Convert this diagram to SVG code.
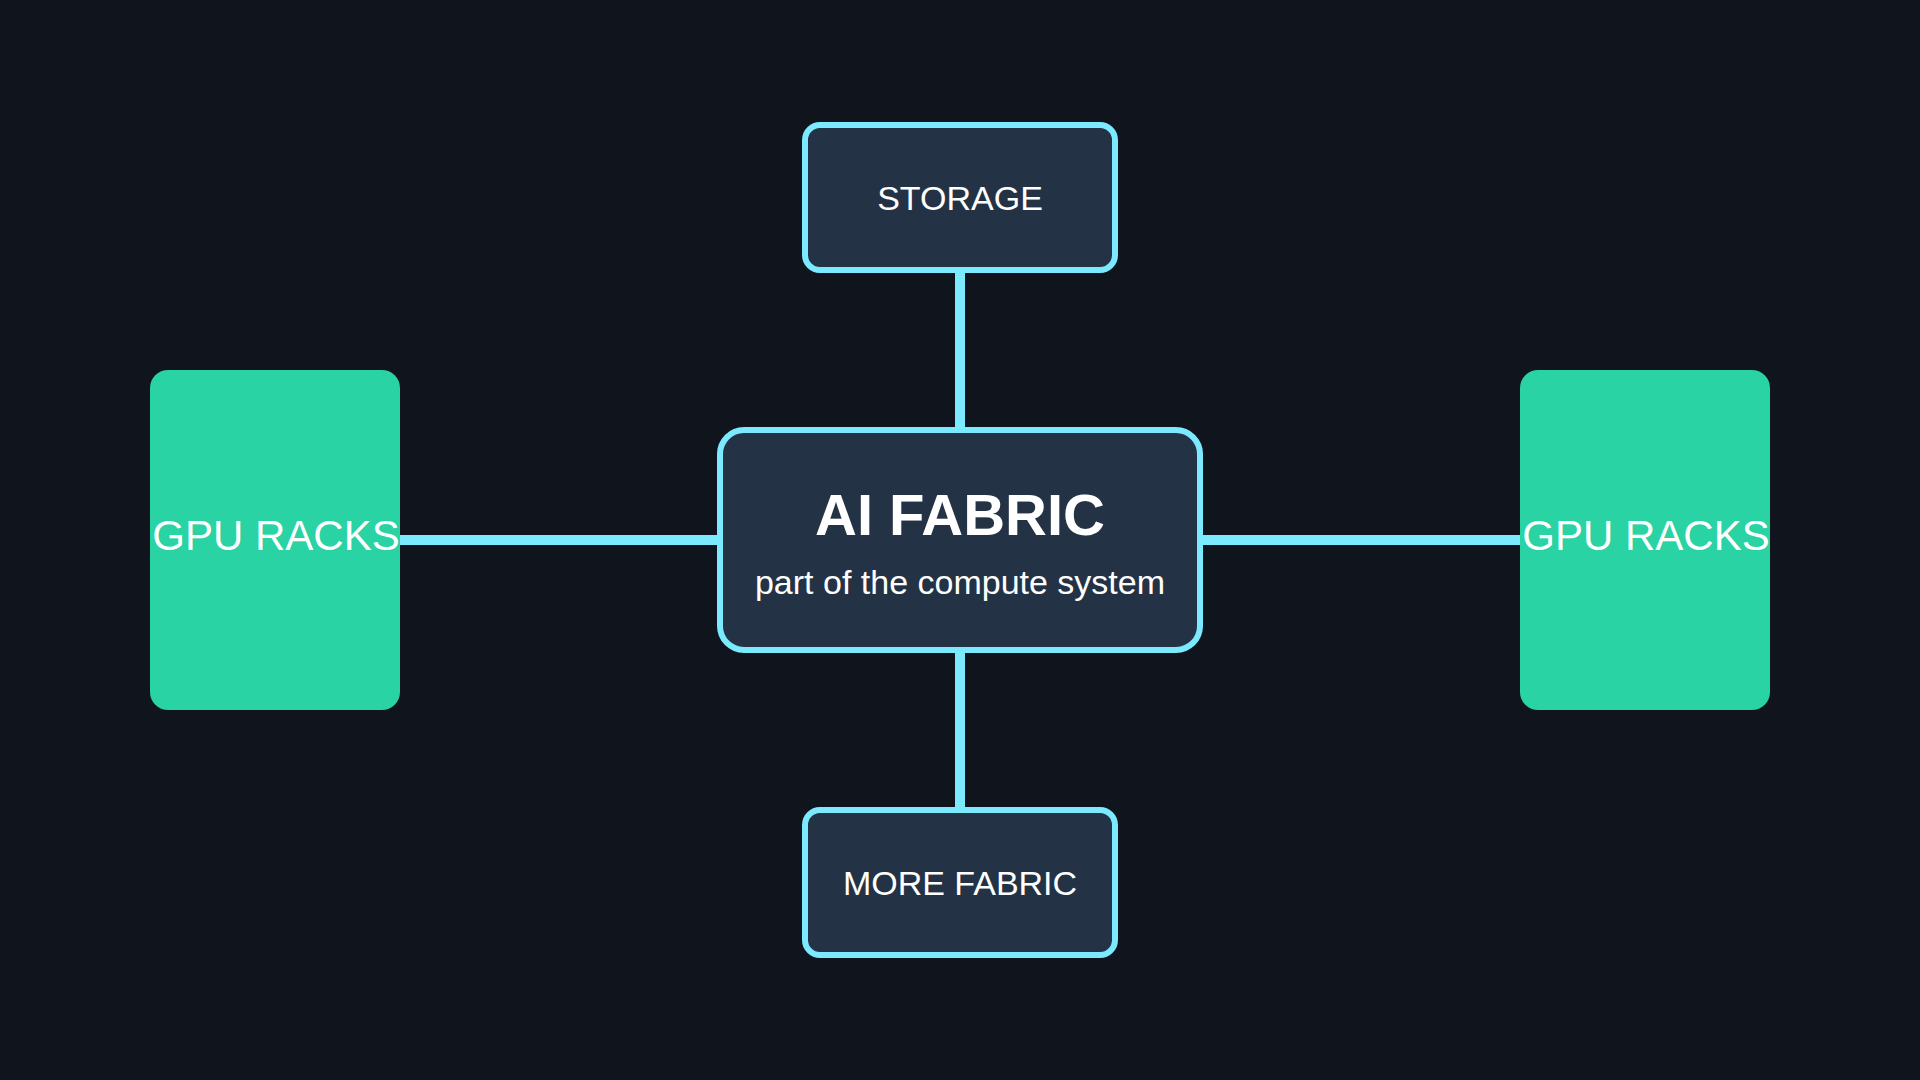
<svg xmlns="http://www.w3.org/2000/svg" width="1920" height="1080" viewBox="0 0 1920 1080">
  <style>
    .bg { fill: #10141c; }
    .box { fill: #233345; stroke: #7be9fe; stroke-width: 6; }
    .rack { fill: #29d3a3; }
    .link { stroke: #7be9fe; stroke-width: 10; fill: none; }
    .lbl { font-family: "Liberation Sans", Arial, sans-serif; fill: #ffffff; text-anchor: middle; }
  </style>
  <rect class="bg" x="0" y="0" width="1920" height="1080"/>
  <g id="connectors">
    <line class="link" x1="960" y1="270" x2="960" y2="430"/>
    <line class="link" x1="960" y1="650" x2="960" y2="810"/>
    <line class="link" x1="400" y1="540" x2="720" y2="540"/>
    <line class="link" x1="1200" y1="540" x2="1520" y2="540"/>
  </g>
  <g id="storage">
    <rect class="box" x="805" y="125" width="310" height="145" rx="15"/>
    <text class="lbl" x="960" y="210" font-size="34">STORAGE</text>
  </g>
  <g id="ai-fabric">
    <rect class="box" x="720" y="430" width="480" height="220" rx="24"/>
    <text class="lbl" x="960" y="535" font-size="58" font-weight="bold">AI FABRIC</text>
    <text class="lbl" x="960" y="594" font-size="34">part of the compute system</text>
  </g>
  <g id="more-fabric">
    <rect class="box" x="805" y="810" width="310" height="145" rx="15"/>
    <text class="lbl" x="960" y="895" font-size="34">MORE FABRIC</text>
  </g>
  <g id="gpu-racks-left">
    <rect class="rack" x="150" y="370" width="250" height="340" rx="18"/>
    <text class="lbl" x="276" y="550" font-size="42">GPU RACKS</text>
  </g>
  <g id="gpu-racks-right">
    <rect class="rack" x="1520" y="370" width="250" height="340" rx="18"/>
    <text class="lbl" x="1646" y="550" font-size="42">GPU RACKS</text>
  </g>
</svg>
